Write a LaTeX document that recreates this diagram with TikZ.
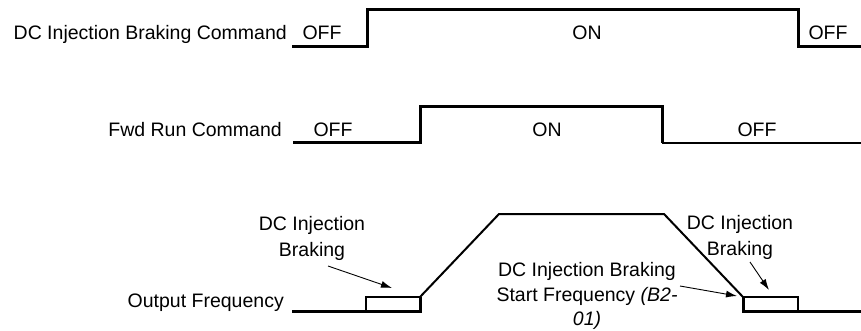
\documentclass[tikz,border=0pt]{standalone}
\usepackage{fontspec}
\setmainfont{Liberation Sans}
\usetikzlibrary{arrows.meta}
\begin{document}
\begin{tikzpicture}[x=1pt,y=-1pt,
  lbl/.style={inner sep=0pt,font=\fontsize{19.5}{26.5}\selectfont},
  sig/.style={line width=3pt,line join=miter},
  thin sig/.style={line width=2pt,line join=miter},
  boxline/.style={line width=2pt},
  pointer/.style={line width=0.9pt,-{Latex[length=11pt,width=7pt]}}]
\useasboundingbox (0,0) rectangle (861,331);
% Row 1: DC injection braking command
\node[lbl,anchor=base east] (cmdA) at (287,40) {DC Injection Braking Command};
\node[lbl,anchor=base] (offA1) at (322,40) {OFF};
\node[lbl,anchor=base] (onA) at (587,40) {ON};
\node[lbl,anchor=base] (offA2) at (828,40) {OFF};
\coordinate (a0) at (292,47);
\coordinate (a1) at (367,47);
\coordinate (a2) at (367,10);
\coordinate (a3) at (798,10);
\coordinate (a4) at (798,47);
\coordinate (a5) at (861,47);
\draw[sig] (a0) -- (a1) -- (a2) -- (a3) -- (a4) -- (a5);
% Row 2: Fwd run command
\node[lbl,anchor=base east] (cmdB) at (282,137) {Fwd Run Command};
\node[lbl,anchor=base] (offB1) at (333,137) {OFF};
\node[lbl,anchor=base] (onB) at (547,137) {ON};
\node[lbl,anchor=base] (offB2) at (757,137) {OFF};
\coordinate (b0) at (293,143);
\coordinate (b1) at (420,143);
\coordinate (b2) at (420,107);
\coordinate (b3) at (662,107);
\coordinate (b4) at (662,143);
\coordinate (b5) at (861,143);
\draw[sig] (b0) -- (b1) -- (b2) -- (b3) -- (b4);
\draw[thin sig] (b4) -- (b5);
% Row 3: Output frequency
\node[lbl,anchor=base east] (outf) at (284,307) {Output Frequency};
\coordinate (c0) at (292,311);
\coordinate (c1) at (420,311);
\coordinate (c2) at (420,297);
\coordinate (c3) at (499,214);
\coordinate (c4) at (664,214);
\coordinate (c5) at (743,297);
\coordinate (c6) at (743,311);
\coordinate (c7) at (861,311);
\draw[boxline] (366,297) rectangle (420,311);
\draw[boxline] (743,297) rectangle (798,311);
\draw[boxline,line join=miter] (c2) -- (c3) -- (c4) -- (c5);
\draw[sig] (c0) -- (c1) -- (c2);
\draw[sig] (c5) -- (c6) -- (c7);
% Labels with pointers
\node[lbl,align=center,anchor=north] (dcl) at (312,216) {DC Injection\\Braking};
\node[lbl,align=center,anchor=north] (dcr) at (740,215) {DC Injection\\Braking};
\node[lbl,align=center,anchor=north,font=\fontsize{19.5}{24.5}\selectfont] (dcs) at (587,262.5) {DC Injection Braking\\Start Frequency \textit{(B2-}\\\textit{01)}};
\coordinate (pl0) at (328,266);
\coordinate (pl1) at (392,288);
\coordinate (pr0) at (750,262);
\coordinate (pr1) at (769,290);
\coordinate (ps0) at (680,286);
\coordinate (ps1) at (737,296);
\draw[pointer] (pl0) -- (pl1);
\draw[pointer] (pr0) -- (pr1);
\draw[pointer] (ps0) -- (ps1);
\end{tikzpicture}
\end{document}
